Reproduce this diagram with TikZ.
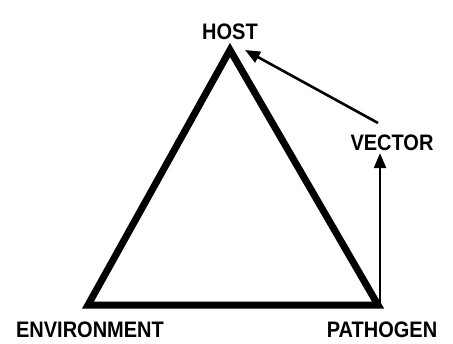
\documentclass[tikz,border=0pt]{standalone}
\usepackage{fontspec}
\setmainfont{Liberation Sans}
\usetikzlibrary{arrows.meta}
\begin{document}
\begin{tikzpicture}[x=1bp,y=1bp,
  lbl/.style={inner sep=0pt,font=\fontsize{20bp}{22bp}\selectfont\bfseries},
  tri/.style={line width=7bp,line join=miter},
  arr/.style={line width=2.6bp,-{Triangle[length=15bp,width=12bp]}}]
\useasboundingbox (0,0) rectangle (453,343);
% vertices (y flipped: 343 - y)
\coordinate (H) at (230,293);
\coordinate (E) at (88,38);
\coordinate (P) at (378,38);
\draw[tri] (H) -- (E) -- (P) -- cycle;
\node[lbl] (host) at (230,311) {\scalebox{1}[1.12]{HOST}};
\node[lbl] (vector) at (392,200) {\scalebox{1}[1.12]{VECTOR}};
\node[lbl] (env) at (90,13) {\scalebox{1}[1.12]{ENVIRONMENT}};
\node[lbl] (path) at (382,13) {\scalebox{1}[1.12]{PATHOGEN}};
\coordinate (pbase) at (380,38);
\coordinate (vtail) at (378,220);
\coordinate (htip) at (245,293);
\draw[arr] (pbase) -- ([yshift=-2bp]vector.south -| pbase);
\draw[arr] (vtail) -- (htip);
\end{tikzpicture}
\end{document}
